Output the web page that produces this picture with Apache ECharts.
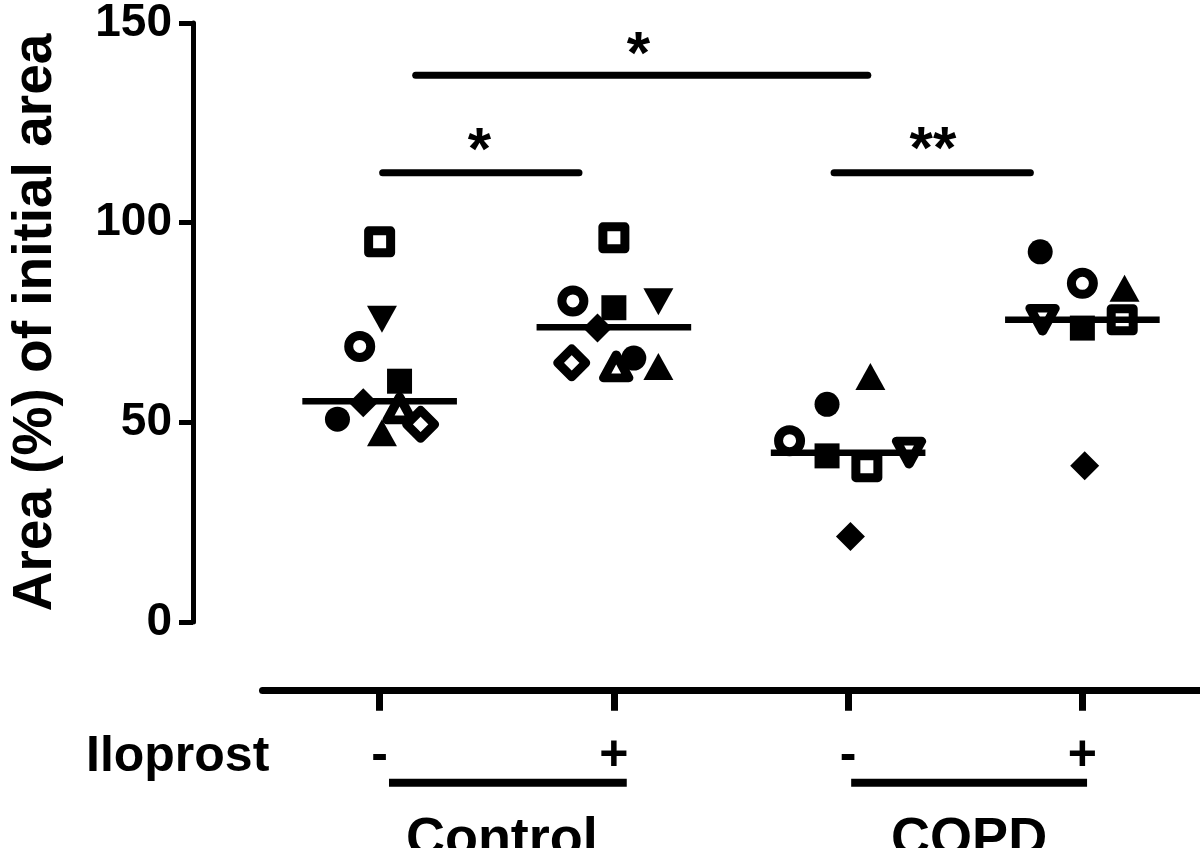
<!DOCTYPE html>
<html>
<head>
<meta charset="utf-8">
<script src="https://cdn.jsdelivr.net/npm/echarts@6/dist/echarts.min.js"></script>
<style>
html,body{margin:0;padding:0;background:#fff;}
#chart{width:1200px;height:848px;}
</style>
</head>
<body>
<div id="chart"></div>
<script>
// ---- data ----
const categories = ['-', '+', '-', '+'];           // Iloprost per group
const groupNames = ['Control', 'COPD'];
const groupSpans = [[0.04, 1.055], [2.013, 3.02]]; // category-index spans of group underlines
const subjects = ['open square', 'filled down triangle', 'open circle', 'filled square', 'filled diamond',
                  'open triangle', 'filled circle', 'filled up triangle', 'open diamond', 'open down triangle'];
const controlMinus = [95.2, 75.8, 69.0, 60.3, 54.9, 53.5, 50.8, 47.4, 49.5, null];
const controlPlus  = [96.2, 80.2, 80.4, 78.7, 73.6, 64.0, 66.1, 64.0, 64.9, null];
const copdMinus    = [38.9, null, 45.4, 41.6, 21.4, null, 54.5, 61.5, null, 42.4];
const copdPlus     = [75.7, null, 84.8, 73.6, 39.1, null, 92.7, 83.6, null, 75.7];
const controlMinusJitter = [0.00, 0.01, -0.085, 0.085, -0.07, 0.085, -0.18, 0.01, 0.175, 0];
const controlPlusJitter  = [0.00, 0.19, -0.175, 0.00, -0.07, 0.01, 0.085, 0.19, -0.18, 0];
const copdMinusJitter    = [0.08, 0, -0.25, -0.09, 0.01, 0, -0.09, 0.095, 0, 0.26];
const copdPlusJitter     = [0.17, 0, 0.00, 0.00, 0.01, 0, -0.18, 0.18, 0, -0.17];
const medians = [55.3, 73.8, 42.4, 75.7];
const yTicks = [0, 50, 100, 150];
// significance annotations
const sigFrom = [0.154, 0.013, 1.94];
const sigTo = [2.084, 0.851, 2.778];
const sigY = [136.9, 112.5, 112.5];
const sigText = ['*', '*', '**'];
const sigTextX = [1.105, 0.426, 2.362];
const sigTextY = [141.6, 117.7, 117.9];

// ---- build ----
const FONT = '"Liberation Sans", Arial, sans-serif';
const groupValues = [controlMinus, controlPlus, copdMinus, copdPlus];
const groupJitter = [controlMinusJitter, controlPlusJitter, copdMinusJitter, copdPlusJitter];

function symbolStyle(name) {
  const open = name.startsWith('open');
  let symbol = 'circle', size = 25, rotate = 0;
  if (name.includes('square')) { symbol = 'rect'; size = open ? 22 : 25; }
  else if (name.includes('circle')) { symbol = 'circle'; size = open ? 22 : 25; }
  else if (name.includes('diamond')) { symbol = 'diamond'; size = open ? 28 : 29; }
  else if (name.includes('triangle')) {
    symbol = 'triangle'; size = open ? [25, 23] : [30, 27];
    if (name.includes('down')) rotate = 180;
  }
  return {
    symbol, symbolSize: size, symbolRotate: rotate,
    itemStyle: open
      ? { color: '#fff', borderColor: '#000', borderWidth: 9, borderJoin: 'round', opacity: 1 }
      : { color: '#000', borderWidth: 0, opacity: 1 }
  };
}

const series = [];
subjects.forEach((name, si) => {
  const data = [];
  groupValues.forEach((vals, gi) => {
    if (vals[si] != null) data.push([gi + groupJitter[gi][si], vals[si]]);
  });
  series.push(Object.assign({
    type: 'scatter', name, xAxisIndex: 1, yAxisIndex: 0, data,
    silent: true, z: 2 + si * 0.01, emphasis: { disabled: true }
  }, symbolStyle(name)));
});
// median lines
medians.forEach((m, gi) => {
  series.push({
    type: 'line', xAxisIndex: 1, data: [[gi - 0.33, m], [gi + 0.33, m]],
    symbol: 'none', lineStyle: { color: '#000', width: 6.5, cap: 'butt', opacity: 1 }, z: 5, silent: true
  });
});
// significance bars
sigFrom.forEach((f, i) => {
  series.push({
    type: 'line', xAxisIndex: 1, data: [[f, sigY[i]], [sigTo[i], sigY[i]]],
    symbol: 'none', lineStyle: { color: '#000', width: 7, cap: 'round', opacity: 1 }, z: 5, silent: true
  });
});
series.push({
  type: 'scatter', xAxisIndex: 1, symbolSize: 1, itemStyle: { color: 'rgba(255,255,255,0)', opacity: 1 }, silent: true,
  data: sigText.map((t, i) => [sigTextX[i], sigTextY[i], t]),
  label: { show: true, position: 'inside', formatter: p => p.value[2], opacity: 1,
           color: '#000', fontFamily: FONT, fontWeight: 'bold', fontSize: 60 },
  emphasis: { disabled: true },
  z: 6
});

const chart = echarts.init(document.getElementById('chart'), null, { renderer: 'canvas' });
chart.setOption({
  animation: false,
  backgroundColor: '#fff',
  grid: { left: 259.5, right: 0.5, top: 20, bottom: 226, containLabel: false },
  xAxis: [
    {
      type: 'category', data: categories, boundaryGap: true, offset: 68.7, position: 'bottom',
      axisLine: { show: true, onZero: false, lineStyle: { color: '#000', width: 7 } },
      axisTick: { show: true, alignWithLabel: true, length: 20, lineStyle: { color: '#000', width: 7 } },
      axisLabel: { color: '#000', fontFamily: FONT, fontWeight: 'bold', fontSize: 50, margin: 41 },
      splitLine: { show: false }
    },
    { type: 'value', min: -0.5, max: 3.5, show: false, axisLine: { onZero: false } }
  ],
  yAxis: [{
    type: 'value', min: 0, max: 150, interval: 50, offset: 69.5, position: 'left',
    name: 'Area (%) of initial area', nameLocation: 'middle', nameGap: 130,
    nameTextStyle: { color: '#000', fontFamily: FONT, fontWeight: 'bold', fontSize: 55 },
    axisLine: { show: true, onZero: false, lineStyle: { color: '#000', width: 5 } },
    axisTick: { show: true, length: 14, lineStyle: { color: '#000', width: 5 } },
    axisLabel: { color: '#000', fontFamily: FONT, fontWeight: 'bold', fontSize: 46, margin: 21,
                 formatter: v => yTicks.includes(v) ? String(v) : '' },
    splitLine: { show: false }
  }],
  series
});

// group labels beneath the axis, positioned through the x scale
const px = x => chart.convertToPixel({ xAxisIndex: 1 }, x);
const graphics = [{
  type: 'text', x: 86, y: 757, silent: true,
  style: { text: 'Iloprost', fill: '#000', font: 'bold 50px ' + FONT, textAlign: 'left', textVerticalAlign: 'middle' }
}];
groupNames.forEach((g, i) => {
  const x1 = px(groupSpans[i][0]), x2 = px(groupSpans[i][1]);
  graphics.push({
    type: 'line', silent: true,
    shape: { x1, y1: 782.7, x2, y2: 782.7 },
    style: { stroke: '#000', lineWidth: 8, lineCap: 'butt' }
  });
  graphics.push({
    type: 'text', silent: true, x: (x1 + x2) / 2 + (i === 0 ? -6 : 0), y: 840,
    style: { text: g, fill: '#000', font: 'bold 54px ' + FONT, textAlign: 'center', textVerticalAlign: 'middle' }
  });
});
chart.setOption({ graphic: graphics });
</script>
</body>
</html>
